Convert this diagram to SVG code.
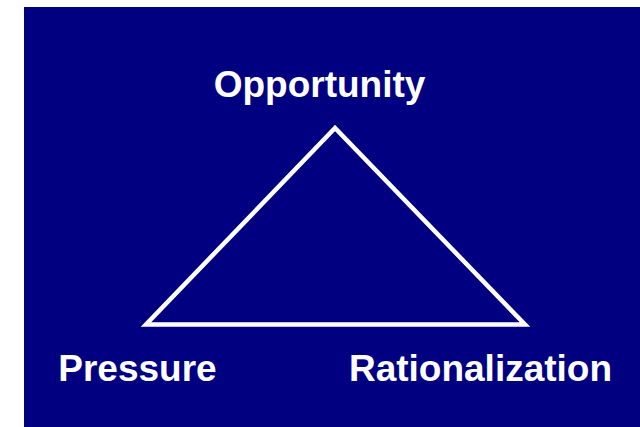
<svg xmlns="http://www.w3.org/2000/svg" width="640" height="427" viewBox="0 0 640 427">
  <style>
    .label { font-family: "Liberation Sans", Arial, sans-serif; font-weight: bold; font-size: 37px; fill: #ffffff; text-anchor: middle; }
    .edge { fill: none; stroke: #ffffff; stroke-width: 4.5; stroke-linejoin: miter; stroke-miterlimit: 10; }
  </style>
  <rect x="0" y="0" width="640" height="427" fill="#ffffff"/>
  <rect x="24" y="7" width="616" height="420" fill="#000080"/>
  <g id="connectors">
    <polygon class="edge" points="335,128 146,324.5 525,324.5"/>
  </g>
  <g id="opportunity">
    <text class="label" x="319.5" y="97">Opportunity</text>
  </g>
  <g id="pressure">
    <text class="label" x="137.5" y="381">Pressure</text>
  </g>
  <g id="rationalization">
    <text class="label" x="480.5" y="381">Rationalization</text>
  </g>
</svg>
